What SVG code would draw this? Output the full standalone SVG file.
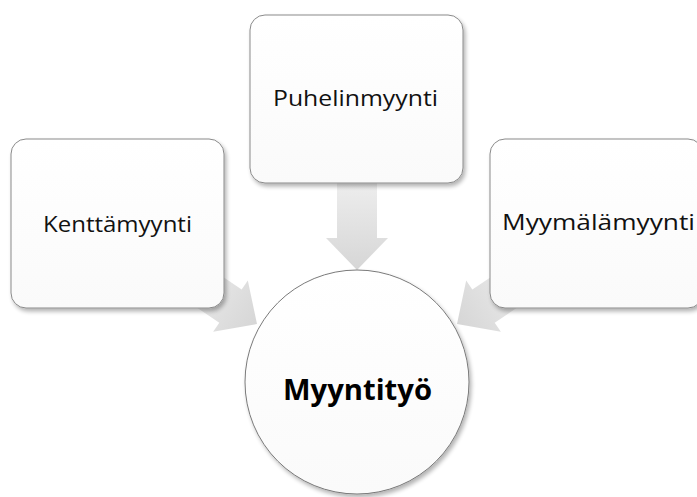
<svg xmlns="http://www.w3.org/2000/svg" width="697" height="497" viewBox="0 0 697 497">
<style>
.box{fill:url(#boxg);stroke:#8a8a8a;stroke-width:1;filter:url(#sh)}
.circ{fill:url(#boxg);stroke:#7a7a7a;stroke-width:1;filter:url(#sh)}
.arrow{fill:url(#arrg)}
.lbl{font-family:"Open Sans","Liberation Sans",sans-serif;font-size:22px;fill:#111;text-anchor:middle}
.main{font-family:"Open Sans","Liberation Sans",sans-serif;font-size:29px;font-weight:bold;fill:#000;text-anchor:middle}
</style>
<defs>
<linearGradient id="boxg" x1="0" y1="0" x2="0" y2="1">
<stop offset="0" stop-color="#ffffff"/>
<stop offset="1" stop-color="#fafafa"/>
</linearGradient>
<linearGradient id="arrg" x1="0" y1="0" x2="1" y2="0">
<stop offset="0" stop-color="#eeeeee"/>
<stop offset="1" stop-color="#d6d6d6"/>
</linearGradient>
<filter id="sh" x="-10%" y="-10%" width="125%" height="125%">
<feGaussianBlur in="SourceAlpha" stdDeviation="2"/>
<feOffset dx="2" dy="3" result="b"/>
<feComponentTransfer><feFuncA type="linear" slope="0.3"/></feComponentTransfer>
<feMerge><feMergeNode/><feMergeNode in="SourceGraphic"/></feMerge>
</filter>
<path id="arr" d="M0,0 L-32,-31 L-32,-20 L-90,-20 L-90,20 L-32,20 L-32,31 Z"/>
</defs>
<rect width="697" height="497" fill="#ffffff"/>
<g id="connectors">
<use href="#arr" class="arrow" transform="translate(357,270) rotate(90)"/>
<use href="#arr" class="arrow" transform="translate(257,324) rotate(34)"/>
<use href="#arr" class="arrow" transform="translate(457,324) rotate(146)"/>
</g>
<g id="kenttamyynti">
<rect class="box" x="11" y="139" width="213" height="169" rx="15"/>
<text class="lbl" x="117.5" y="232" textLength="149" lengthAdjust="spacingAndGlyphs">Kenttämyynti</text>
</g>
<g id="puhelinmyynti">
<rect class="box" x="250" y="15" width="213" height="168" rx="15"/>
<text class="lbl" x="355.5" y="106" textLength="165" lengthAdjust="spacingAndGlyphs">Puhelinmyynti</text>
</g>
<g id="myymalamyynti">
<rect class="box" x="490" y="139" width="213" height="169" rx="15"/>
<text class="lbl" x="598.5" y="230" textLength="193" lengthAdjust="spacingAndGlyphs">Myymälämyynti</text>
</g>
<g id="myyntityo">
<circle class="circ" cx="357" cy="382" r="112"/>
<text class="main" x="357.5" y="400" textLength="149" lengthAdjust="spacingAndGlyphs">Myyntityö</text>
</g>
</svg>
